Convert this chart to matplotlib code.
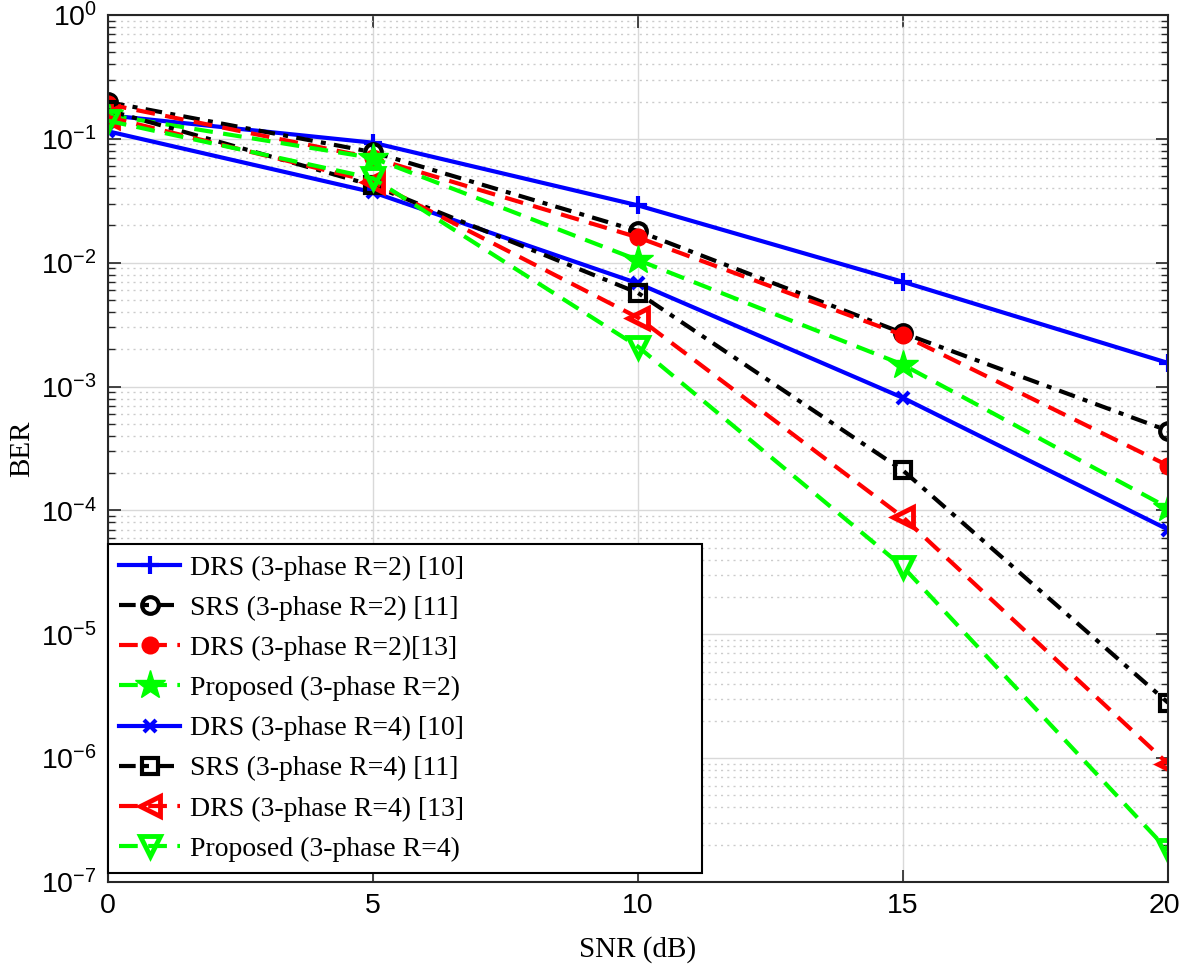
import matplotlib
matplotlib.use("Agg")
import matplotlib.pyplot as plt
import matplotlib.transforms as mtransforms
import numpy as np
from matplotlib.ticker import LogLocator, NullFormatter, FixedLocator

snr = [0, 5, 10, 15, 20]

drs_r2_10 = [0.155, 0.093, 0.029, 0.0070, 0.00155]
srs_r2_11 = [0.198, 0.078, 0.018, 0.0027, 0.00044]
drs_r2_13 = [0.19, 0.070, 0.016, 0.0026, 0.00023]
prop_r2 = [0.156, 0.070, 0.0105, 0.0015, 0.000105]
drs_r4_10 = [0.115, 0.037, 0.0068, 0.00081, 0.00007]
srs_r4_11 = [0.17, 0.042, 0.0057, 0.00021, 2.8e-6]
drs_r4_13 = [0.15, 0.045, 0.0036, 8.8e-5, 9.0e-7]
prop_r4 = [0.14, 0.048, 0.0021, 3.5e-5, 1.8e-7]

labels = [
    "DRS (3-phase R=2) [10]",
    "SRS (3-phase R=2) [11]",
    "DRS (3-phase R=2)[13]",
    "Proposed (3-phase R=2)",
    "DRS (3-phase R=4) [10]",
    "SRS (3-phase R=4) [11]",
    "DRS (3-phase R=4) [13]",
    "Proposed (3-phase R=4)",
]

fig = plt.figure(figsize=(11.81, 9.71), dpi=100)
ax = fig.add_axes([0.0914, 0.0917, 0.8976, 0.8929])

blue = (0, 0, 1)
green = (0, 1, 0)
red = (1, 0, 0)
lw = 3.0
dash = (0, (4.5, 2.5))
dashdot = (0, (4, 2, 1.2, 2))

ax.plot(snr, drs_r2_10, color=blue, lw=lw, ls='-', marker='+', ms=13, mew=3, label=labels[0])
ax.plot(snr, srs_r2_11, color='k', lw=lw, ls=dashdot, marker='o', ms=12, mfc='none', mew=3, label=labels[1])
ax.plot(snr, drs_r2_13, color=red, lw=lw, ls=dash, marker='o', ms=11, mfc=red, mew=2, label=labels[2])
ax.plot(snr, prop_r2, color=green, lw=lw, ls=dash, marker='*', ms=22, mfc=green, mew=1, label=labels[3])
ax.plot(snr, drs_r4_10, color=blue, lw=lw, ls='-', marker='x', ms=8, mew=3, label=labels[4])
ax.plot(snr, srs_r4_11, color='k', lw=lw, ls=dashdot, marker='s', ms=11, mfc='none', mew=3, label=labels[5])
ax.plot(snr, drs_r4_13, color=red, lw=lw, ls=dash, marker='<', ms=15, mfc='none', mew=3.5, label=labels[6])
ax.plot(snr, prop_r4, color=green, lw=lw, ls=dash, marker='v', ms=15, mfc='none', mew=3.5, label=labels[7])

ax.set_yscale('log')
ax.set_xlim(0, 20)
ax.set_ylim(1e-7, 1)
ax.set_xticks([0, 5, 10, 15, 20])
ax.yaxis.set_major_locator(FixedLocator([10.0**k for k in range(-7, 1)]))
ax.yaxis.set_minor_locator(LogLocator(base=10, subs=np.arange(2, 10), numticks=20))
ax.yaxis.set_minor_formatter(NullFormatter())
ax.set_yticklabels([r'$\mathregular{10^{%d}}$' % k for k in range(-7, 1)])

ax.grid(True, which='major', color=(0.85, 0.85, 0.85), lw=1.0, ls='-')
ax.grid(True, which='minor', axis='y', color=(0.8, 0.8, 0.8), lw=1.0, ls=(0, (1.5, 3)))
ax.set_axisbelow(True)

for s in ax.spines.values():
    s.set_color((0.15, 0.15, 0.15))
    s.set_linewidth(1.5)
ax.tick_params(which='both', direction='in', top=True, right=True, color=(0.15, 0.15, 0.15))
ax.tick_params(which='major', length=9, width=1.2)
ax.tick_params(which='minor', length=5, width=1.0)
ax.tick_params(axis='both', labelsize=20.5, colors=(0.15, 0.15, 0.15), pad=8)
for t in ax.get_xticklabels() + ax.get_yticklabels():
    t.set_fontfamily('Liberation Sans')
    t.set_color('black')

# nudge the last x tick label slightly left so it stays inside the figure
last = ax.get_xticklabels()[-1]
last.set_transform(last.get_transform() + mtransforms.ScaledTranslation(-4 / 100, 0, fig.dpi_scale_trans))

ax.set_xlabel('SNR (dB)', fontfamily='Liberation Serif', fontsize=21, labelpad=12)
ax.set_ylabel('BER', fontfamily='Liberation Serif', fontsize=21, labelpad=4)

leg = ax.legend(loc='lower left', bbox_to_anchor=(0, 0.0104, 0.5604, 0.3),
                mode='expand',
                prop={'family': 'Liberation Serif', 'size': 20},
                frameon=True, fancybox=False, edgecolor='black', framealpha=1,
                borderaxespad=0, handlelength=2.2, handletextpad=0.35,
                labelspacing=0.53, borderpad=0.4)
leg.get_frame().set_linewidth(1.5)

fig.savefig('out.png', dpi=100)
